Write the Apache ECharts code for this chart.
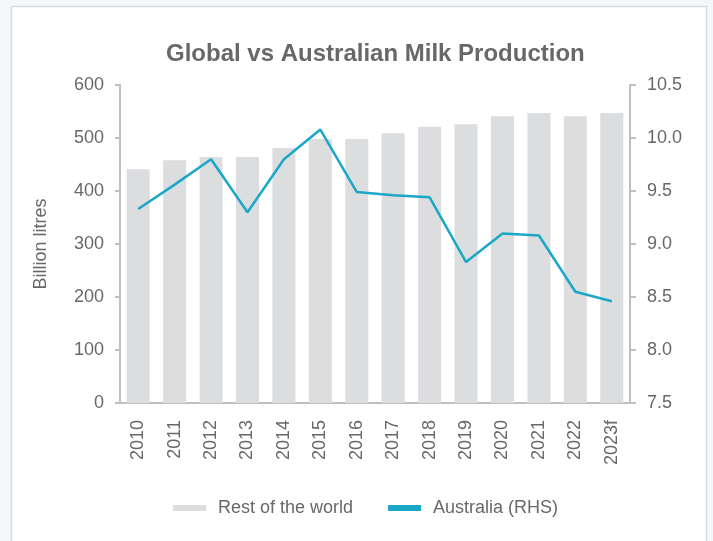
<!DOCTYPE html>
<html>
<head>
<meta charset="utf-8">
<script src="https://cdn.jsdelivr.net/npm/echarts@6/dist/echarts.min.js"></script>
<style>
  html, body { margin: 0; padding: 0; background: #f3f7fa; }
  #chart { width: 713px; height: 541px; }
</style>
</head>
<body>
<div id="chart"></div>
<script>
// categories and values
const years = ['2010', '2011', '2012', '2013', '2014', '2015', '2016', '2017', '2018', '2019', '2020', '2021', '2022', '2023f']
const restOfWorld = [441, 458, 464, 464, 481, 498, 498, 509, 521, 526, 541, 547, 541, 547]
const australia = [9.33, 9.56, 9.80, 9.30, 9.80, 10.08, 9.49, 9.46, 9.44, 8.83, 9.10, 9.08, 8.55, 8.46]

const grey = '#686868'
const axisColor = '#bfbfbf'
const font = 'Liberation Sans'

let myChart = echarts.init(document.getElementById('chart'))
myChart.setOption({
  backgroundColor: '#f3f7fa',
  graphic: [{
    type: 'rect',
    z: -10,
    shape: { x: 11.5, y: 6.5, width: 695, height: 560 },
    style: { fill: '#fff', stroke: '#dcdcdc', lineWidth: 1.5 }
  }],
  title: {
    text: 'Global vs Australian Milk Production',
    left: 161,
    top: 37,
    textStyle: { color: grey, fontSize: 24, fontWeight: 'bold', fontFamily: font }
  },
  legend: {
    left: 168,
    top: 494,
    itemWidth: 33,
    itemHeight: 6,
    itemGap: 35,
    icon: 'rect',
    textStyle: { color: grey, fontSize: 18, fontFamily: font, padding: [0, 0, 0, 7] },
    data: ['Rest of the world', 'Australia (RHS)']
  },
  grid: { left: 120, right: 83, top: 85, bottom: 138 },
  xAxis: {
    type: 'category',
    data: years,
    axisLine: { lineStyle: { color: axisColor, width: 2 } },
    axisTick: { lineStyle: { color: axisColor, width: 2 }, length: 5 },
    axisLabel: { rotate: 90, margin: 17, color: grey, fontSize: 18, fontFamily: font }
  },
  yAxis: [
    {
      type: 'value',
      min: 0,
      max: 600,
      interval: 100,
      name: 'Billion litres',
      nameLocation: 'middle',
      nameGap: 70,
      nameTextStyle: { color: grey, fontSize: 18, fontFamily: font },
      splitLine: { show: false },
      axisLine: { show: true, lineStyle: { color: axisColor, width: 2 } },
      axisTick: { show: true, length: 5, lineStyle: { color: axisColor, width: 2 } },
      axisLabel: { color: grey, fontSize: 18, margin: 16, fontFamily: font }
    },
    {
      type: 'value',
      min: 7.5,
      max: 10.5,
      interval: 0.5,
      position: 'right',
      splitLine: { show: false },
      axisLine: { show: true, lineStyle: { color: axisColor, width: 2 } },
      axisTick: { show: true, length: 6, lineStyle: { color: axisColor, width: 2 } },
      axisLabel: {
        color: grey, fontSize: 18, margin: 17, fontFamily: font,
        formatter: v => v.toFixed(1)
      }
    }
  ],
  series: [
    {
      name: 'Rest of the world',
      type: 'bar',
      data: restOfWorld,
      barWidth: 23,
      itemStyle: { color: '#dcdddf' }
    },
    {
      name: 'Australia (RHS)',
      type: 'line',
      yAxisIndex: 1,
      data: australia,
      symbol: 'none',
      itemStyle: { color: '#1aa8c6' },
      lineStyle: { color: '#1aa8c6', width: 2.5 }
    }
  ]
})
</script>
</body>
</html>
